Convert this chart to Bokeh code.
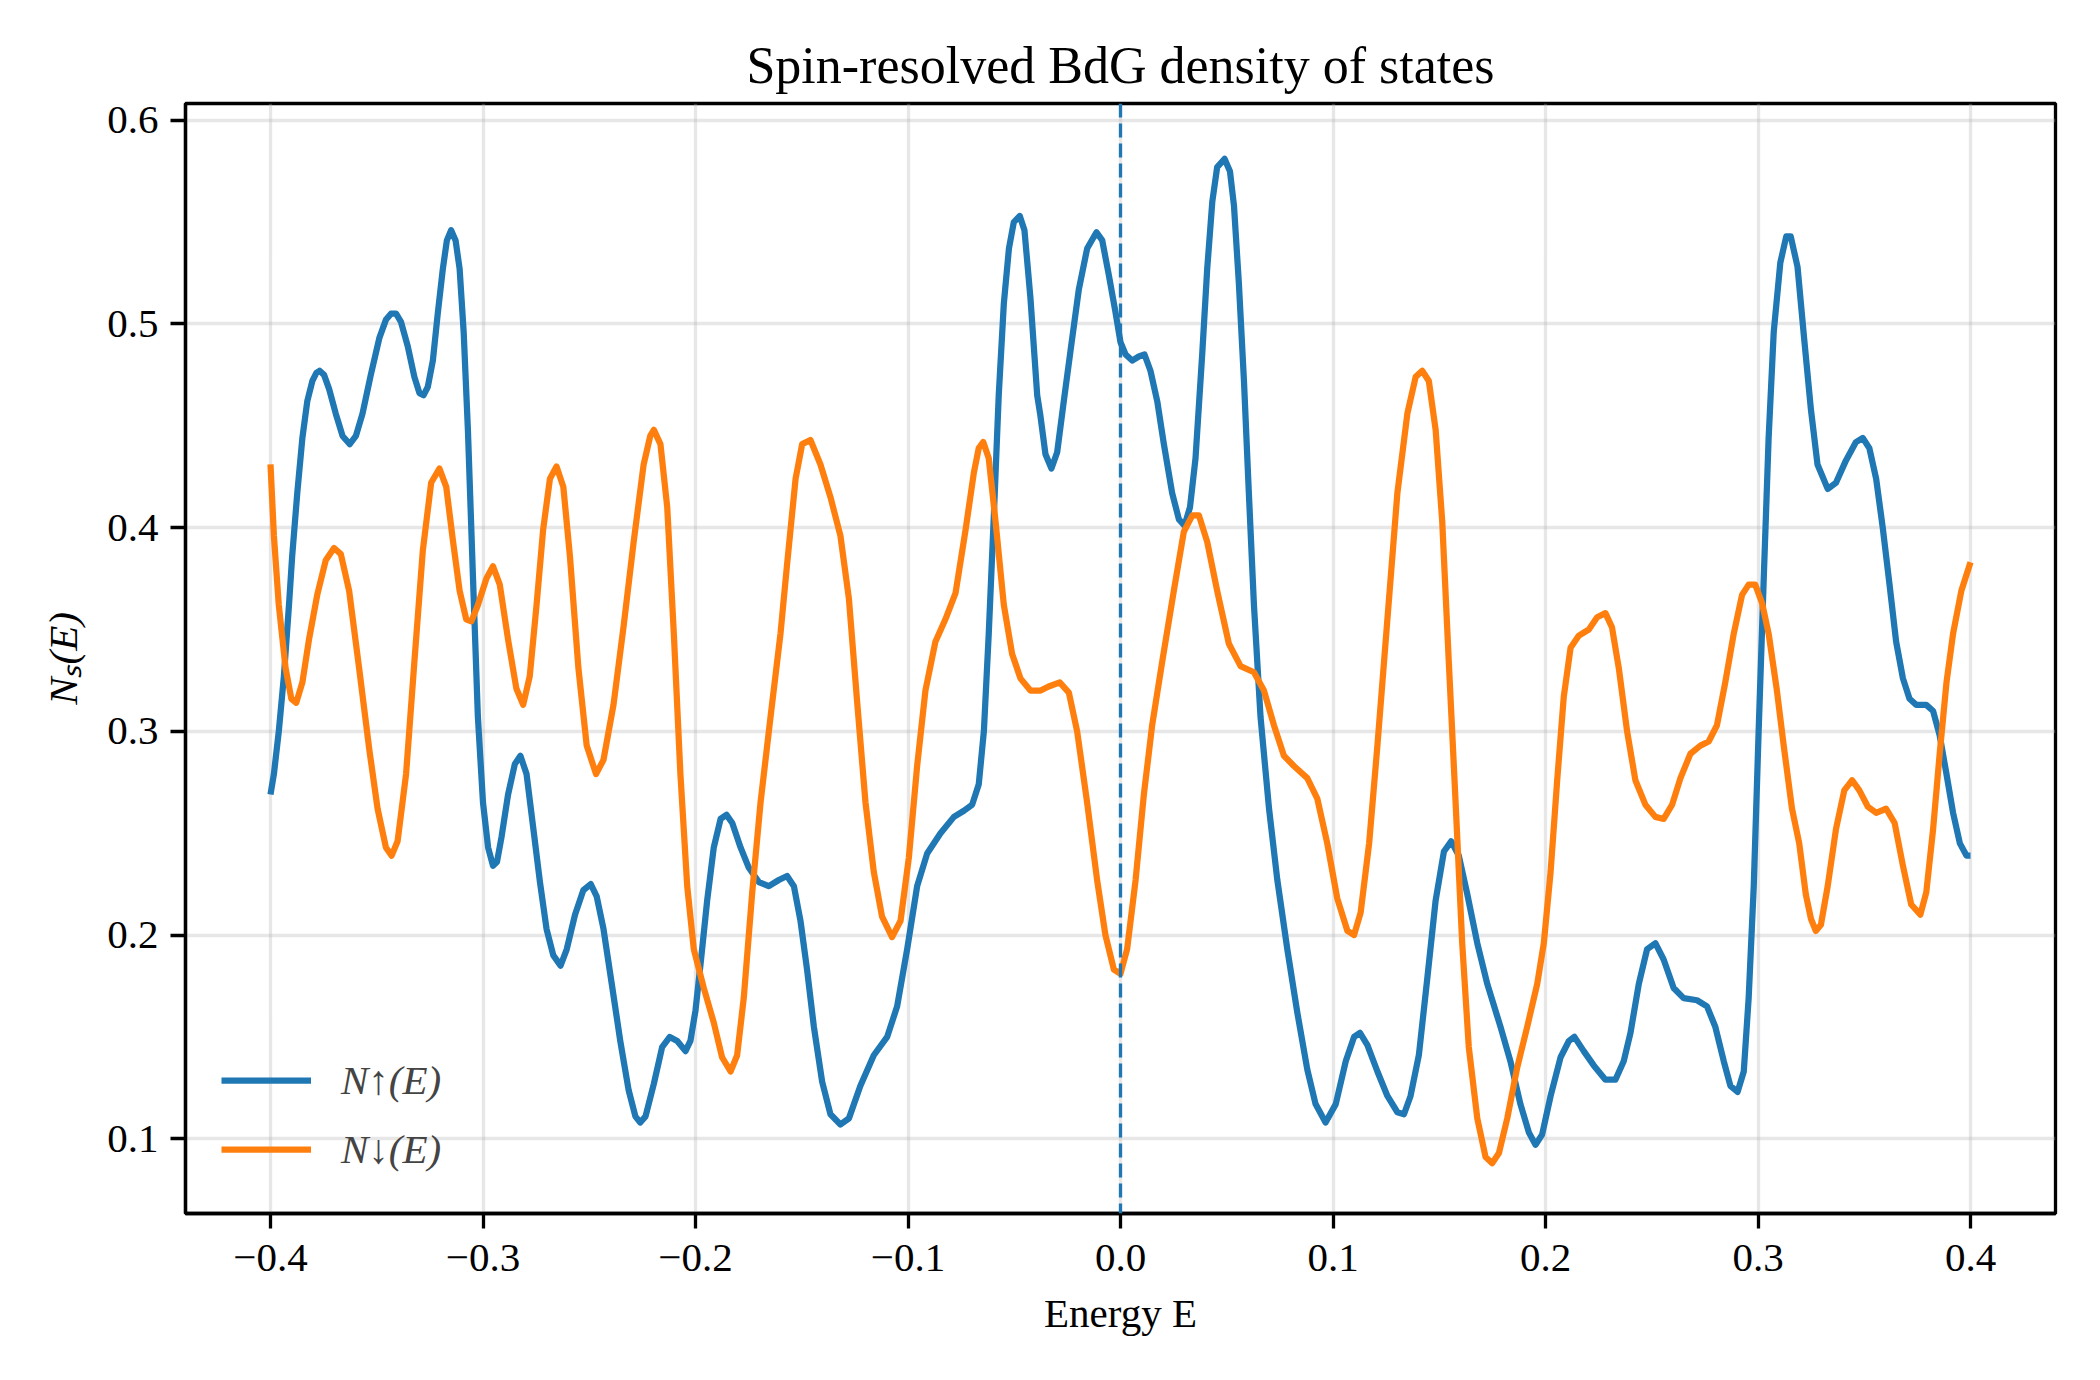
from bokeh.plotting import figure
from bokeh.models import Range1d, FixedTicker, Span, Legend, LegendItem
from bokeh.embed import file_html
from bokeh.resources import INLINE

# Spin-up DOS
E_up = [-0.4000, -0.3984, -0.3961, -0.3937, -0.3913, -0.3898, -0.3874, -0.3850, -0.3827, -0.3803,
        -0.3784, -0.3769, -0.3748, -0.3724, -0.3693, -0.3661, -0.3627, -0.3598, -0.3567, -0.3528,
        -0.3488, -0.3457, -0.3433, -0.3409, -0.3386, -0.3354, -0.3323, -0.3299, -0.3280, -0.3260,
        -0.3236, -0.3213, -0.3189, -0.3170, -0.3150, -0.3129, -0.3110, -0.3091, -0.3071, -0.3047,
        -0.3024, -0.3000, -0.2976, -0.2953, -0.2934, -0.2913, -0.2882, -0.2850, -0.2824, -0.2795,
        -0.2764, -0.2732, -0.2701, -0.2669, -0.2635, -0.2606, -0.2567, -0.2528, -0.2493, -0.2465,
        -0.2433, -0.2394, -0.2354, -0.2315, -0.2283, -0.2260, -0.2235, -0.2196, -0.2157, -0.2121,
        -0.2086, -0.2047, -0.2024, -0.2000, -0.1976, -0.1945, -0.1914, -0.1882, -0.1854, -0.1827,
        -0.1788, -0.1749, -0.1702, -0.1655, -0.1608, -0.1569, -0.1537, -0.1506, -0.1475, -0.1443,
        -0.1404, -0.1365, -0.1318, -0.1278, -0.1224, -0.1161, -0.1098, -0.1051, -0.1004, -0.0957,
        -0.0910, -0.0847, -0.0784, -0.0737, -0.0698, -0.0667, -0.0643, -0.0620, -0.0596, -0.0573,
        -0.0549, -0.0525, -0.0502, -0.0474, -0.0452, -0.0424, -0.0392, -0.0377, -0.0353, -0.0325,
        -0.0298, -0.0267, -0.0235, -0.0196, -0.0157, -0.0113, -0.0086, -0.0055, -0.0024, 0.0000,
        0.0024, 0.0055, 0.0086, 0.0113, 0.0141, 0.0173, 0.0204, 0.0243, 0.0275, 0.0301,
        0.0327, 0.0353, 0.0385, 0.0408, 0.0432, 0.0455, 0.0490, 0.0515, 0.0534, 0.0557,
        0.0581, 0.0604, 0.0628, 0.0659, 0.0699, 0.0738, 0.0785, 0.0832, 0.0879, 0.0918,
        0.0965, 0.1013, 0.1060, 0.1099, 0.1127, 0.1162, 0.1209, 0.1256, 0.1303, 0.1334,
        0.1365, 0.1404, 0.1444, 0.1483, 0.1522, 0.1556, 0.1592, 0.1632, 0.1679, 0.1726,
        0.1788, 0.1835, 0.1882, 0.1922, 0.1953, 0.1984, 0.2024, 0.2071, 0.2110, 0.2136,
        0.2180, 0.2227, 0.2282, 0.2329, 0.2368, 0.2400, 0.2439, 0.2478, 0.2517, 0.2556,
        0.2603, 0.2650, 0.2713, 0.2760, 0.2799, 0.2839, 0.2870, 0.2904, 0.2933, 0.2956,
        0.2980, 0.3003, 0.3027, 0.3050, 0.3074, 0.3105, 0.3133, 0.3154, 0.3186, 0.3217,
        0.3249, 0.3280, 0.3328, 0.3367, 0.3414, 0.3461, 0.3493, 0.3524, 0.3556, 0.3587,
        0.3619, 0.3650, 0.3682, 0.3713, 0.3745, 0.3792, 0.3824, 0.3855, 0.3887, 0.3918,
        0.3950, 0.3981, 0.4000]
N_up = [0.269, 0.279, 0.300, 0.327, 0.362, 0.386, 0.417, 0.444, 0.462, 0.472,
        0.476, 0.477, 0.475, 0.468, 0.456, 0.445, 0.441, 0.445, 0.456, 0.475,
        0.493, 0.502, 0.505, 0.505, 0.501, 0.489, 0.474, 0.466, 0.465, 0.469,
        0.482, 0.505, 0.527, 0.541, 0.546, 0.541, 0.527, 0.496, 0.448, 0.375,
        0.307, 0.265, 0.243, 0.234, 0.236, 0.248, 0.269, 0.284, 0.288, 0.279,
        0.253, 0.226, 0.203, 0.190, 0.185, 0.193, 0.210, 0.222, 0.225, 0.219,
        0.203, 0.176, 0.148, 0.124, 0.111, 0.108, 0.111, 0.127, 0.145, 0.150,
        0.148, 0.143, 0.148, 0.163, 0.186, 0.217, 0.243, 0.257, 0.259, 0.255,
        0.243, 0.233, 0.226, 0.224, 0.227, 0.229, 0.224, 0.207, 0.183, 0.155,
        0.128, 0.112, 0.107, 0.110, 0.126, 0.141, 0.150, 0.165, 0.193, 0.224,
        0.240, 0.250, 0.258, 0.261, 0.264, 0.274, 0.300, 0.348, 0.406, 0.465,
        0.510, 0.537, 0.550, 0.553, 0.546, 0.513, 0.465, 0.455, 0.436, 0.429,
        0.437, 0.462, 0.487, 0.517, 0.537, 0.545, 0.541, 0.524, 0.506, 0.491,
        0.485, 0.482, 0.484, 0.485, 0.477, 0.462, 0.441, 0.417, 0.404, 0.401,
        0.410, 0.434, 0.486, 0.527, 0.560, 0.577, 0.581, 0.575, 0.558, 0.520,
        0.472, 0.417, 0.362, 0.307, 0.262, 0.227, 0.193, 0.162, 0.134, 0.117,
        0.108, 0.117, 0.138, 0.150, 0.152, 0.146, 0.133, 0.121, 0.113, 0.112,
        0.121, 0.141, 0.179, 0.217, 0.241, 0.246, 0.239, 0.220, 0.196, 0.176,
        0.155, 0.138, 0.117, 0.103, 0.097, 0.102, 0.121, 0.140, 0.148, 0.150,
        0.143, 0.136, 0.129, 0.129, 0.138, 0.152, 0.176, 0.193, 0.196, 0.188,
        0.174, 0.169, 0.168, 0.165, 0.155, 0.138, 0.126, 0.123, 0.133, 0.169,
        0.224, 0.300, 0.375, 0.444, 0.496, 0.530, 0.543, 0.543, 0.528, 0.493,
        0.458, 0.431, 0.419, 0.422, 0.433, 0.442, 0.444, 0.439, 0.424, 0.400,
        0.372, 0.344, 0.326, 0.316, 0.313, 0.313, 0.310, 0.298, 0.279, 0.260,
        0.245, 0.239, 0.239]

# Spin-down DOS
E_dn = [-0.4000, -0.3984, -0.3961, -0.3929, -0.3902, -0.3879, -0.3850, -0.3819, -0.3780, -0.3740,
        -0.3701, -0.3669, -0.3630, -0.3583, -0.3535, -0.3496, -0.3457, -0.3430, -0.3402, -0.3362,
        -0.3323, -0.3283, -0.3244, -0.3205, -0.3173, -0.3142, -0.3110, -0.3079, -0.3055, -0.3024,
        -0.2984, -0.2953, -0.2921, -0.2882, -0.2843, -0.2811, -0.2780, -0.2748, -0.2717, -0.2685,
        -0.2654, -0.2622, -0.2591, -0.2551, -0.2512, -0.2468, -0.2433, -0.2386, -0.2339, -0.2291,
        -0.2244, -0.2213, -0.2196, -0.2165, -0.2133, -0.2102, -0.2071, -0.2039, -0.2008, -0.1961,
        -0.1914, -0.1875, -0.1835, -0.1804, -0.1773, -0.1733, -0.1694, -0.1647, -0.1600, -0.1569,
        -0.1529, -0.1498, -0.1459, -0.1412, -0.1365, -0.1318, -0.1278, -0.1239, -0.1200, -0.1161,
        -0.1122, -0.1075, -0.1035, -0.0996, -0.0957, -0.0918, -0.0871, -0.0824, -0.0776, -0.0729,
        -0.0690, -0.0667, -0.0646, -0.0620, -0.0588, -0.0549, -0.0510, -0.0471, -0.0424, -0.0376,
        -0.0338, -0.0286, -0.0243, -0.0204, -0.0157, -0.0110, -0.0071, -0.0031, 0.0000, 0.0031,
        0.0071, 0.0110, 0.0149, 0.0196, 0.0251, 0.0298, 0.0338, 0.0369, 0.0408, 0.0455,
        0.0510, 0.0565, 0.0628, 0.0675, 0.0722, 0.0769, 0.0816, 0.0879, 0.0926, 0.0973,
        0.1020, 0.1068, 0.1099, 0.1130, 0.1170, 0.1209, 0.1256, 0.1303, 0.1350, 0.1389,
        0.1420, 0.1451, 0.1483, 0.1514, 0.1545, 0.1577, 0.1608, 0.1639, 0.1679, 0.1718,
        0.1749, 0.1781, 0.1820, 0.1867, 0.1914, 0.1961, 0.1992, 0.2024, 0.2055, 0.2086,
        0.2118, 0.2157, 0.2204, 0.2243, 0.2282, 0.2313, 0.2345, 0.2384, 0.2423, 0.2470,
        0.2517, 0.2556, 0.2596, 0.2635, 0.2682, 0.2729, 0.2768, 0.2807, 0.2846, 0.2886,
        0.2925, 0.2956, 0.2987, 0.3019, 0.3050, 0.3089, 0.3121, 0.3160, 0.3194, 0.3225,
        0.3249, 0.3272, 0.3296, 0.3328, 0.3367, 0.3406, 0.3443, 0.3477, 0.3517, 0.3556,
        0.3603, 0.3643, 0.3682, 0.3721, 0.3764, 0.3792, 0.3824, 0.3855, 0.3887, 0.3918,
        0.3957, 0.4000]
N_dn = [0.431, 0.396, 0.362, 0.331, 0.316, 0.314, 0.324, 0.345, 0.367, 0.384,
        0.390, 0.387, 0.369, 0.331, 0.291, 0.262, 0.243, 0.239, 0.246, 0.279,
        0.334, 0.389, 0.422, 0.429, 0.420, 0.394, 0.369, 0.355, 0.354, 0.362,
        0.375, 0.381, 0.372, 0.345, 0.321, 0.313, 0.327, 0.362, 0.399, 0.424,
        0.430, 0.420, 0.386, 0.331, 0.293, 0.279, 0.286, 0.313, 0.351, 0.393,
        0.431, 0.445, 0.448, 0.441, 0.410, 0.348, 0.279, 0.224, 0.193, 0.174,
        0.157, 0.140, 0.133, 0.141, 0.169, 0.221, 0.265, 0.307, 0.348, 0.382,
        0.424, 0.441, 0.443, 0.431, 0.415, 0.396, 0.365, 0.314, 0.265, 0.231,
        0.209, 0.199, 0.207, 0.238, 0.283, 0.320, 0.344, 0.355, 0.368, 0.399,
        0.427, 0.439, 0.442, 0.434, 0.403, 0.362, 0.338, 0.326, 0.320, 0.320,
        0.322, 0.324, 0.319, 0.300, 0.265, 0.227, 0.200, 0.183, 0.181, 0.193,
        0.227, 0.269, 0.303, 0.334, 0.369, 0.398, 0.406, 0.406, 0.393, 0.369,
        0.343, 0.332, 0.329, 0.320, 0.303, 0.288, 0.283, 0.277, 0.267, 0.245,
        0.218, 0.202, 0.200, 0.211, 0.245, 0.293, 0.355, 0.417, 0.456, 0.474,
        0.477, 0.472, 0.448, 0.403, 0.334, 0.265, 0.196, 0.145, 0.110, 0.091,
        0.088, 0.093, 0.110, 0.135, 0.155, 0.176, 0.196, 0.231, 0.276, 0.317,
        0.341, 0.347, 0.350, 0.356, 0.358, 0.351, 0.331, 0.300, 0.276, 0.264,
        0.258, 0.257, 0.264, 0.277, 0.289, 0.293, 0.295, 0.303, 0.324, 0.348,
        0.367, 0.372, 0.372, 0.363, 0.348, 0.320, 0.293, 0.262, 0.245, 0.220,
        0.208, 0.202, 0.205, 0.224, 0.252, 0.271, 0.276, 0.271, 0.263, 0.260,
        0.262, 0.255, 0.234, 0.215, 0.210, 0.221, 0.252, 0.289, 0.324, 0.348,
        0.369, 0.383]

x_ticks = [-0.4, -0.3, -0.2, -0.1, 0.0, 0.1, 0.2, 0.3, 0.4]
x_tick_labels = ["\u22120.4", "\u22120.3", "\u22120.2", "\u22120.1", "0.0", "0.1", "0.2", "0.3", "0.4"]
y_ticks = [0.1, 0.2, 0.3, 0.4, 0.5, 0.6]
y_tick_labels = ["0.1", "0.2", "0.3", "0.4", "0.5", "0.6"]

FONT = "Liberation Serif"

p = figure(width=2100, height=1380, output_backend="svg", toolbar_location=None,
           x_range=Range1d(-0.44, 0.44), y_range=Range1d(0.0633, 0.6082),
           min_border_left=185, min_border_right=45, min_border_top=103, min_border_bottom=167,
           title="Spin-resolved BdG density of states")

p.title.text_font = FONT
p.title.text_font_size = "52px"
p.title.text_font_style = "normal"
p.title.text_color = "black"
p.title.align = "center"
p.title.standoff = 19

p.outline_line_color = "black"
p.outline_line_width = 3.3
p.background_fill_color = "white"
p.border_fill_color = "white"

for g in (p.xgrid, p.ygrid):
    g.grid_line_color = "#b0b0b0"
    g.grid_line_alpha = 0.3
    g.grid_line_width = 3.3
p.xgrid.ticker = FixedTicker(ticks=x_ticks)
p.ygrid.ticker = FixedTicker(ticks=y_ticks)

for ax, ticks, labels in ((p.xaxis[0], x_ticks, x_tick_labels), (p.yaxis[0], y_ticks, y_tick_labels)):
    ax.ticker = FixedTicker(ticks=ticks)
    ax.major_label_overrides = {t: l for t, l in zip(ticks, labels)}
    ax.major_tick_out = 15
    ax.major_tick_in = 0
    ax.minor_tick_out = 0
    ax.minor_tick_in = 0
    ax.major_tick_line_width = 3.3
    ax.major_tick_line_color = "black"
    ax.axis_line_width = 3.3
    ax.axis_line_color = "black"
    ax.major_label_text_font = FONT
    ax.major_label_text_font_size = "41px"
    ax.major_label_text_color = "black"
    ax.axis_label_text_font = FONT
    ax.axis_label_text_font_size = "41px"
    ax.axis_label_text_color = "black"

p.xaxis[0].axis_label = "Energy E"
p.xaxis[0].axis_label_text_font_style = "normal"
p.xaxis[0].major_label_standoff = 16
p.xaxis[0].axis_label_standoff = 16
p.yaxis[0].axis_label = "N\u209B(E)"
p.yaxis[0].axis_label_text_font_style = "italic"
p.yaxis[0].major_label_standoff = 12
p.yaxis[0].axis_label_standoff = 18

r_up = p.line(E_up, N_up, line_color="#1f77b4", line_width=6.25, line_join="round")
r_dn = p.line(E_dn, N_dn, line_color="#ff7f0e", line_width=6.25, line_join="round")

p.add_layout(Span(location=0.0, dimension="height", line_color="#1f77b4",
                  line_width=3.3, line_dash="14 6"))

legend = Legend(items=[LegendItem(label="N\u2191(E)", renderers=[r_up]),
                       LegendItem(label="N\u2193(E)", renderers=[r_dn])],
                location=(36, 40), padding=0, margin=0, spacing=21,
                glyph_width=90, glyph_height=30, label_standoff=30,
                border_line_alpha=0, background_fill_alpha=0,
                label_text_font=FONT, label_text_font_size="41px",
                label_text_font_style="italic")
p.add_layout(legend)

open("out.html", "w").write(file_html(p, INLINE))
